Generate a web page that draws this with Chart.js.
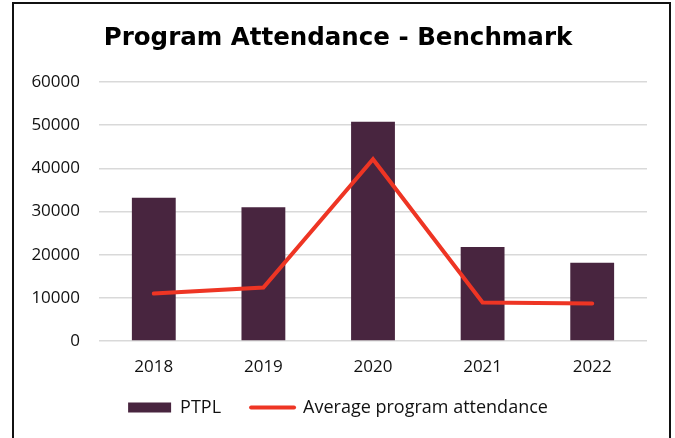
<!DOCTYPE html>
<html>
<head>
<meta charset="utf-8">
<script src="https://cdn.jsdelivr.net/npm/chart.js@4/dist/chart.umd.min.js"></script>
<style>
  html, body { margin: 0; padding: 0; background: #fff; }
  #wrap { position: relative; width: 675px; height: 438px; overflow: hidden; }
  #frame { position: absolute; left: 12px; top: 2px; width: 655px; height: 500px;
           border: 2px solid #111; border-bottom: none; pointer-events: none; }
  canvas { position: absolute; left: 0; top: 0; }
</style>
</head>
<body>
<div id="wrap">
  <canvas id="c" width="675" height="438"></canvas>
  <div id="frame"></div>
</div>
<script>
const titleText = "Program Attendance - Benchmark";
const years = ["2018", "2019", "2020", "2021", "2022"];
const ptplValues = [33200, 31000, 50800, 21800, 18100];
const averageValues = [11000, 12400, 42100, 8900, 8700];
const seriesNames = ["PTPL", "Average program attendance"];
const yTicks = [0, 10000, 20000, 30000, 40000, 50000, 60000];

const barColor = "#48253f";
const lineColor = "#ee3524";
const tickFont = "'Open Sans', Lato, sans-serif";
const titleFont = "'DejaVu Sans', sans-serif";

new Chart(document.getElementById("c"), {
  data: {
    labels: years,
    datasets: [
      {
        type: "bar",
        label: seriesNames[0],
        data: ptplValues,
        backgroundColor: barColor,
        borderWidth: 0,
        barPercentage: 0.4,
        categoryPercentage: 1,
        order: 1
      },
      {
        type: "line",
        label: seriesNames[1],
        data: averageValues,
        borderColor: lineColor,
        backgroundColor: lineColor,
        borderWidth: 4,
        pointRadius: 0,
        tension: 0,
        fill: false,
        borderCapStyle: "round",
        borderJoinStyle: "miter",
        order: 0
      }
    ]
  },
  options: {
    responsive: false,
    devicePixelRatio: 1,
    animation: false,
    layout: { padding: { left: 29, right: 28, top: 0, bottom: 11.5 } },
    plugins: {
      tooltip: { enabled: false },
      title: {
        display: true,
        text: titleText,
        color: "#000",
        font: { family: titleFont, size: 24.5, weight: "bold" },
        padding: { top: 24, bottom: 28.6 }
      },
      legend: {
        display: true,
        position: "bottom",
        labels: {
          color: "#111",
          font: { family: tickFont, size: 18 },
          usePointStyle: true,
          pointStyleWidth: 43,
          boxHeight: 10,
          padding: 30,
          generateLabels: function(chart) {
            return chart.data.datasets.map(function(ds, i) {
              const isLine = ds.type === "line";
              return {
                text: ds.label,
                datasetIndex: i,
                fillStyle: isLine ? lineColor : barColor,
                strokeStyle: isLine ? lineColor : barColor,
                lineWidth: isLine ? 4 : 0,
                lineCap: "round",
                pointStyle: isLine ? "line" : "rect",
                fontColor: "#111",
                hidden: false
              };
            });
          }
        }
      }
    },
    scales: {
      x: {
        grid: { display: false, drawTicks: false },
        border: { display: false },
        ticks: {
          color: "#111",
          font: { family: tickFont, size: 17 },
          mirror: true,
          padding: -36
        },
        afterFit: function(scale) { scale.height = 27.5; }
      },
      y: {
        min: 0,
        max: 60000,
        afterBuildTicks: function(scale) {
          scale.ticks = yTicks.map(function(v) { return { value: v }; });
        },
        grid: { color: "#d9d9d9", lineWidth: 1.5, drawTicks: false },
        border: { display: false },
        ticks: {
          color: "#111",
          font: { family: tickFont, size: 17 },
          padding: 19,
          callback: function(v) { return String(v); }
        },
        afterFit: function(scale) { scale.width = 70; }
      }
    }
  }
});
</script>
</body>
</html>
